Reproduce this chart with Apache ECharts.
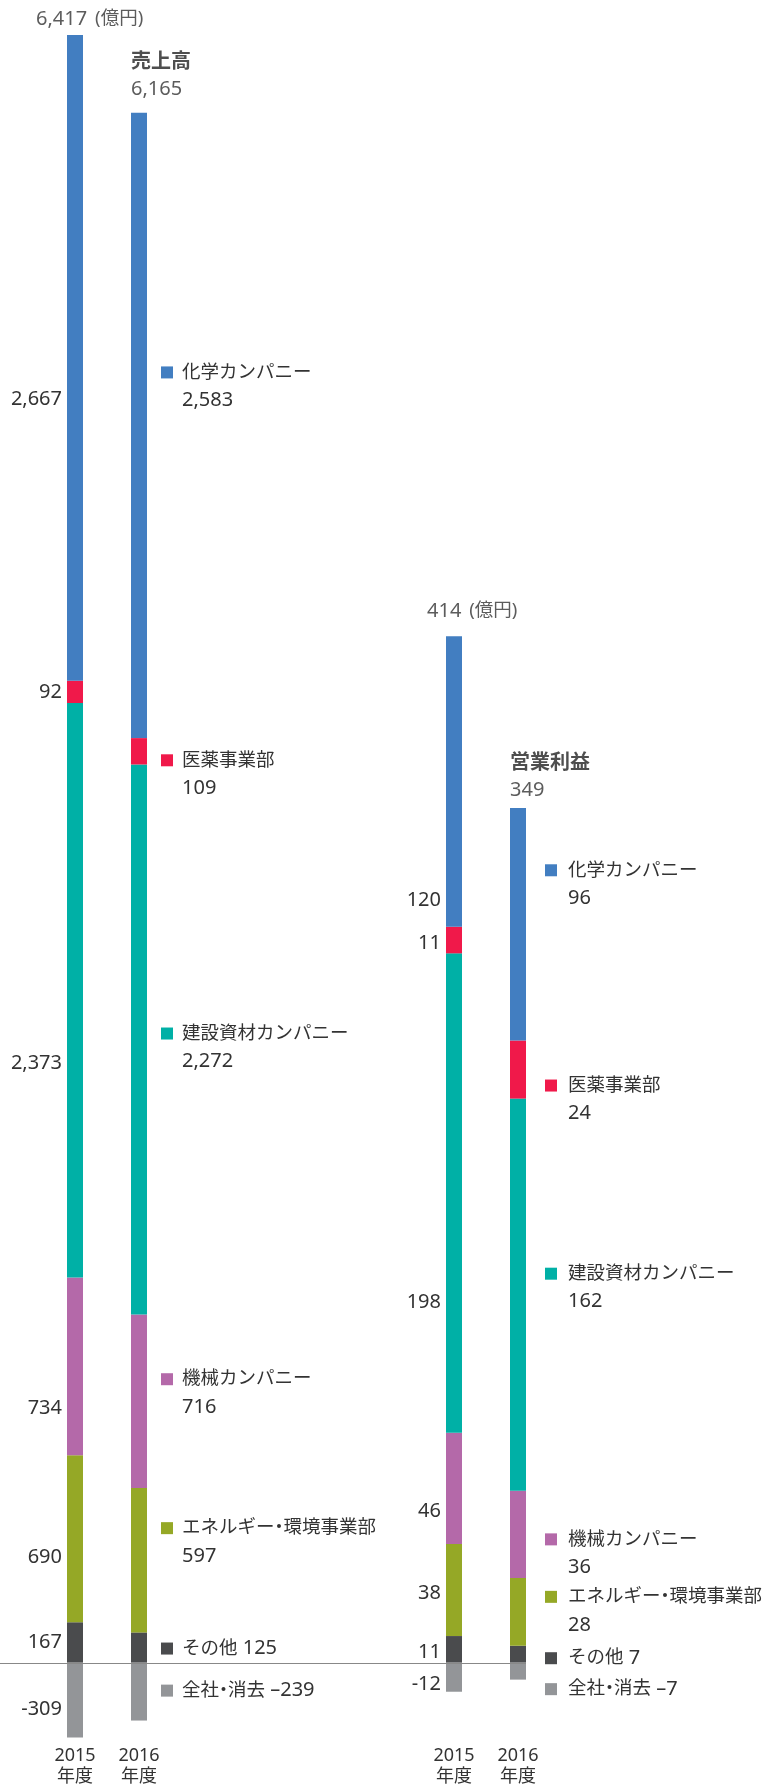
<!DOCTYPE html>
<html><head><meta charset="utf-8">
<script src="https://cdn.jsdelivr.net/npm/echarts@6/dist/echarts.min.js"></script>
<style>html,body{margin:0;padding:0;background:#fff}#c{width:763px;height:1787px}</style>
</head><body><div id="c"></div>
<script>
// ---- data ----
const years = ['2015\n年度', '2016\n年度'];
const segmentNames = ['その他', 'エネルギー・環境事業部', '機械カンパニー', '建設資材カンパニー', '医薬事業部', '化学カンパニー', '全社・消去'];

const salesOther   = [167, 125];
const salesEnergy  = [690, 597];
const salesMachine = [734, 716];
const salesBuild   = [2373, 2272];
const salesPharma  = [92, 109];
const salesChem    = [2667, 2583];
const salesCorp    = [-309, -239];
const salesTotal   = [6417, 6165];

const opOther   = [11, 7];
const opEnergy  = [38, 28];
const opMachine = [46, 36];
const opBuild   = [198, 162];
const opPharma  = [11, 24];
const opChem    = [120, 96];
const opCorp    = [-12, -7];
const opTotal   = [414, 349];

const salesTitle = '売上高';
const opTitle = '営業利益';
const unit = '(億円)';

// ---- styles ----
const COLORS = ['#4a4b4d', '#95a826', '#b469a9', '#00b0a6', '#f0194a', '#427ec1', '#939598'];
const twoLine = [false, true, true, true, true, true, false];
const FONT = '"Noto Sans", "Noto Sans CJK JP", sans-serif';
const TXT = '#333';
const JP = 18.5, NUM = 20;
const salesLeftDy  = [0, 19, 42, 73, 0, 41, 9];
const salesRightDy = [1, -18, -8, 8, 23, -39, -1];
const opLeftDy  = [3, 3, 23, 109, 3, 119, 7];
const opRightDy = [4, -1, 19, -7, 30, -40, 18];

const salesData = [salesOther, salesEnergy, salesMachine, salesBuild, salesPharma, salesChem, salesCorp];
const opData = [opOther, opEnergy, opMachine, opBuild, opPharma, opChem, opCorp];

const fmtLeft = v => v.toLocaleString('en-US');
const fmtRight = v => v.toLocaleString('en-US').replace('-', '–');
const nameRich = name => name.split('・').map((p, k) => `{${k === 0 ? 'f' : 't'}|${p}}`).join('{d|・}');

function buildSeries(g, arrs, leftDy, rightDy, dist, gap) {
  return arrs.map((arr, s) => ({
    type: 'bar', name: segmentNames[s] + g, xAxisIndex: g, yAxisIndex: g,
    stack: 'stack' + g, barWidth: 16, silent: true,
    itemStyle: { color: COLORS[s] },
    data: arr.map((v, i) => ({
      value: v,
      label: i === 0 ? {
        show: true, position: 'left', distance: 5, offset: [0, leftDy[s]],
        formatter: fmtLeft(v), fontFamily: FONT, fontSize: NUM, color: TXT, lineHeight: 24
      } : {
        show: true, position: 'right', distance: dist, offset: [0, rightDy[s]],
        formatter: twoLine[s]
          ? `{m|}${nameRich(segmentNames[s])}\n{v|${fmtRight(v)}}`
          : `{m|}${nameRich(segmentNames[s])}{n| ${fmtRight(v)}}`,
        rich: {
          m: { width: 12, height: 12, backgroundColor: COLORS[s], lineHeight: 28 },
          f: { fontFamily: FONT, fontSize: JP, color: TXT, lineHeight: 28, padding: [0, 0, 0, gap] },
          t: { fontFamily: FONT, fontSize: JP, color: TXT, lineHeight: 28 },
          d: { fontFamily: FONT, fontSize: JP, color: TXT, lineHeight: 28, width: 9, align: 'center' },
          n: { fontFamily: FONT, fontSize: NUM, color: TXT, lineHeight: 28 },
          v: { fontFamily: FONT, fontSize: NUM, color: TXT, lineHeight: 28, padding: [0, 0, 0, 12 + gap] }
        }
      }
    }))
  }));
}

function posTop(arrs, i) {
  return arrs.reduce((a, arr) => a + (arr[i] > 0 ? arr[i] : 0), 0);
}

function headerSeries(g, arrs, total, title, cfg) {
  return {
    type: 'scatter', xAxisIndex: g, yAxisIndex: g, symbolSize: 0, silent: true,
    data: [
      { value: posTop(arrs, 0), label: {
          show: true, position: 'top', distance: cfg.d0, align: 'left', offset: [cfg.x0, 0],
          formatter: `{v|${fmtLeft(total[0])}}{u|${unit}}`,
          rich: {
            v: { fontFamily: FONT, fontSize: NUM, color: TXT, lineHeight: 24 },
            u: { fontFamily: FONT, fontSize: JP, color: TXT, lineHeight: 24, padding: [0, 0, 0, 8] }
          } } },
      { value: posTop(arrs, 1), label: {
          show: true, position: 'top', distance: cfg.d1, align: 'left', offset: [-8, 0],
          formatter: `{b|${title}}\n{v|${fmtLeft(total[1])}}`,
          rich: {
            b: { fontFamily: '"Noto Sans CJK JP", sans-serif', fontSize: 20, fontWeight: 'bold', color: '#222', lineHeight: 29 },
            v: { fontFamily: FONT, fontSize: NUM, color: TXT, lineHeight: 29 }
          } } }
    ]
  };
}

const GRID_TOP = 16.4, GRID_H = 1730;
const axisX = (g) => ({
  type: 'category', gridIndex: g, data: years,
  axisLine: { show: false }, axisTick: { show: false },
  axisLabel: { fontFamily: FONT, fontSize: 18, color: TXT, lineHeight: 21, margin: 0 }
});

const chart = echarts.init(document.getElementById('c'), null, { renderer: 'canvas' });
chart.setOption({
  animation: false,
  backgroundColor: '#fff',
  grid: [
    { left: 43, width: 128, top: GRID_TOP, height: GRID_H },
    { left: 422, width: 128, top: GRID_TOP, height: GRID_H }
  ],
  xAxis: [axisX(0), axisX(1)],
  yAxis: [
    { type: 'value', gridIndex: 0, min: -340, max: 6800, show: false, splitLine: { show: false } },
    { type: 'value', gridIndex: 1, min: -34, max: 680, show: false, splitLine: { show: false } }
  ],
  series: [
    ...buildSeries(0, salesData, salesLeftDy, salesRightDy, 14, 9),
    ...buildSeries(1, opData, opLeftDy, opRightDy, 19, 11),
    headerSeries(0, salesData, salesTotal, salesTitle, { d0: 4, x0: -39, d1: 9 }),
    headerSeries(1, opData, opTotal, opTitle, { d0: 13, x0: -27, d1: 3 })
  ]
});

const p = chart.convertToPixel({ gridIndex: 1 }, [1, 0]);
const y0 = Math.round(p[1]) + 0.5;
chart.setOption({
  graphic: [{ type: 'line', z: 100, silent: true,
    shape: { x1: 0, y1: y0, x2: p[0] + 8, y2: y0 },
    style: { stroke: '#888', lineWidth: 1 } }]
});
</script></body></html>
